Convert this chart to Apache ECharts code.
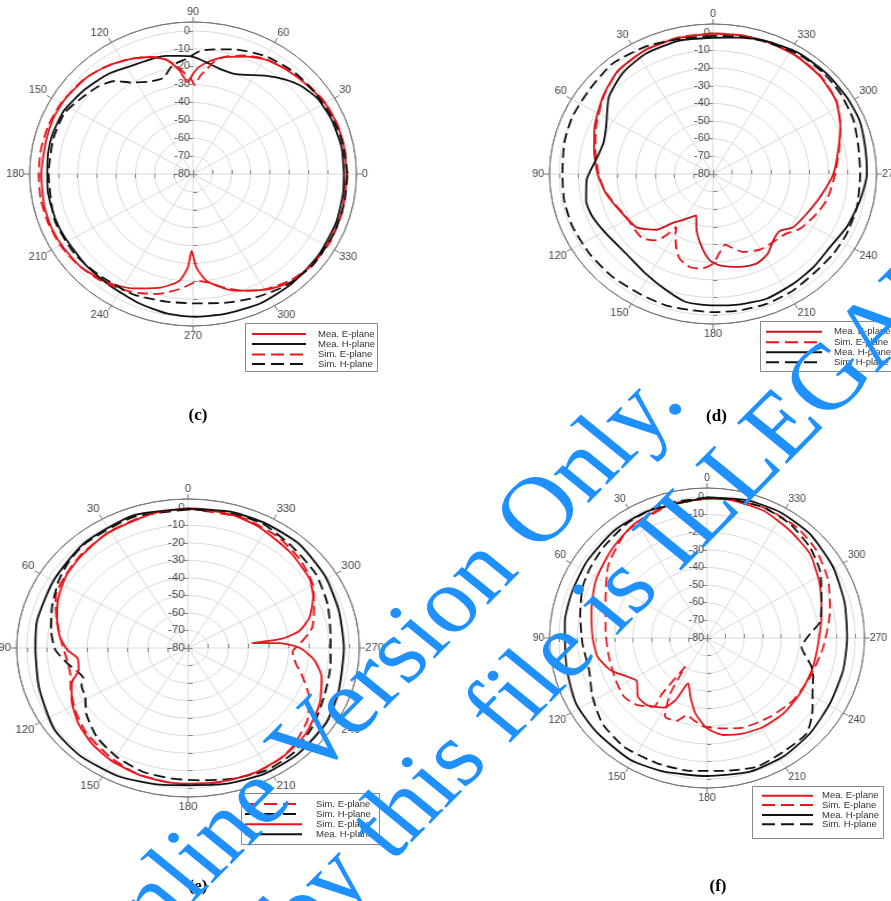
<!DOCTYPE html>
<html><head><meta charset="utf-8">
<script src="https://cdn.jsdelivr.net/npm/echarts@6/dist/echarts.min.js"></script>
<style>
html,body{margin:0;padding:0;width:891px;height:901px;overflow:hidden;background:#fff;}
.pc{position:absolute;width:400px;height:360px;}
#ov{position:absolute;left:0;top:0;width:891px;height:901px;z-index:10;}
</style></head><body>
<div id="pc" class="pc"></div>
<div id="pd" class="pc"></div>
<div id="pe" class="pc"></div>
<div id="pf" class="pc"></div>
<div id="ov"></div>
<script>
// ---- axis values ----
const dbTicks = [-80,-70,-60,-50,-40,-30,-20,-10,0];
const angleMin = 0, angleMax = 360, angleStep = 30;

// ---- data: [angle (deg), level (dB)] ----
// (c)
const cMeaE = [[0,-0.2],[10,0],[20,0],[30,-0.8],[40,-2.6],[50,-4.1],[59,-5.6],[67,-8.7],[75,-12.2],[81,-15.5],[87,-20],[90,-24],[93,-28.6],[97,-21.7],[102,-14.9],[108,-11.2],[116,-8.2],[126,-5],[136,-2.7],[148,-1.3],[157,-1],[166,-1.3],[180,-1.1],[193,-0.6],[202,-0.5],[211,-1],[222,-1.9],[234,-4.9],[244,-8.8],[255,-14.2],[263,-19.6],[267,-27.4],[269,-37],[272,-27.5],[277,-19.6],[288,-11.4],[301,-4.7],[311,-0.8],[322,0],[334,0.3],[346,0.3],[360,-0.2]];
const cMeaH = [[0,-1.5],[11,-1.3],[23,-1.8],[33,-2.7],[41,-5.2],[48,-8.8],[55,-13],[63,-17.8],[69,-20],[77,-19.5],[84,-17],[90,-14.5],[96,-13.6],[102,-12.5],[108,-12.1],[118,-11.5],[128,-8.8],[140,-6.5],[152,-4.1],[163,-3.6],[171,-3.7],[180,-4.2],[188,-3.8],[199,-4.1],[208,-4.5],[222,-4.5],[235,-4.1],[249,-2.4],[260,-0.8],[270,-0.2],[282,0],[296,0.4],[310,0],[325,-0.5],[340,-0.8],[352,-1.2],[360,-1.5]];
const cSimE = [[0,0],[10,0.2],[20,0],[30,-0.5],[40,-2],[50,-3.8],[60,-5.5],[68,-8.5],[76,-12.5],[80,-16],[83,-21],[86,-24.8],[89,-30.2],[91,-27],[94,-24],[98,-19],[103,-14],[110,-10.5],[118,-7.5],[128,-4.5],[138,-2.2],[150,-0.8],[160,0],[170,0.3],[180,0.3],[190,0.5],[200,0.2],[210,-0.3],[220,-1.5],[230,-3.2],[240,-5.5],[247,-7.7],[255,-10.6],[264,-15.4],[273,-20],[278,-18.5],[285,-14],[292,-9.5],[300,-5.5],[310,-2],[320,0],[332,0.8],[345,0.5],[360,0]];
const cSimH = [[0,0.4],[14,-0.4],[24,-1.1],[36,-2],[47,-2.4],[60,-4],[73,-7.1],[81,-9.4],[87,-11.2],[93,-15.4],[100,-18.3],[106,-24.1],[114,-23.5],[122,-19.7],[128,-14],[135,-10.6],[144,-8],[153,-5],[165,-4.7],[180,-4.9],[200,-3.5],[216,-3.9],[229,-5.3],[245,-5.8],[259,-7.3],[270,-7.7],[281,-6.4],[295,-3.7],[308,-1],[321,0.5],[336,0.5],[349,0.3],[360,0.4]];
// (d)
const dMeaE = [[0,-0.4],[13,-0.9],[26,-1.4],[40,-3.4],[52,-7.7],[66,-12.7],[78,-16.8],[90,-20],[101,-23.2],[113,-27.2],[127,-30],[137,-36.8],[143,-45.3],[147,-48.3],[159.5,-55],[165,-47],[172,-38.2],[178,-31.1],[184,-28.1],[195,-25.5],[204,-24.4],[212,-26.5],[220,-31.1],[227,-32.6],[234,-28.6],[245,-26.4],[257,-22.8],[270,-17.4],[282,-13.4],[292,-8.6],[303,-3.8],[315,-1.5],[327,-0.4],[338,0],[349,0],[360,-0.4]];
const dSimE = [[0,-0.2],[13,-0.6],[26,-1.3],[40,-3.5],[52,-8],[66,-13.5],[78,-17.5],[90,-20.5],[99,-22.8],[108,-26],[118,-28.7],[128,-28.5],[135,-28.3],[142,-32.2],[145,-37.6],[147.5,-44.4],[150,-41],[155,-34.5],[160,-29],[167,-25.9],[173.5,-26],[180,-29.2],[184,-34.8],[189,-39.5],[193,-37.2],[199.5,-33.1],[209.6,-30.7],[219,-30.4],[228.7,-29],[235.6,-25.2],[245,-22.4],[256,-19],[270,-16.5],[282,-13],[292,-8.5],[303,-3.5],[315,-1.2],[327,-0.2],[338,0],[349,0],[360,-0.2]];
const dMeaH = [[0,-2.8],[13,-2.4],[27,-3.4],[39,-5.9],[51,-10.4],[64,-18.2],[73,-20.4],[82.5,-18.6],[93,-14.2],[103,-12.3],[111,-12.8],[121,-14.9],[135,-16.1],[148,-13.6],[160,-9.7],[169,-6.1],[180,-5.5],[191,-4.8],[201.5,-4],[214,-5.1],[225,-5.8],[236,-6.4],[247,-4.2],[259,-2.1],[270,0],[281,0.6],[292,2],[302,2],[314,2],[327,1.8],[340,0.3],[350,-1.5],[360,-2.8]];
const dSimH = [[0,-1.7],[13,-1.5],[26,0.3],[40,1.5],[53,0.1],[66,0],[77,-0.7],[90,-1.7],[101,-1.2],[112,-1.1],[125,-1.5],[138,-1.7],[151,-2.1],[162,-1.6],[172,-2],[180,-1.7],[190,-1.4],[201,-1.3],[212,-1.9],[223,-3.1],[234,-2.8],[244,-2.7],[256,-2.9],[270,-3.5],[282,-2.8],[293,-0.8],[305,0.5],[315,1.1],[326,1.2],[340,-0.3],[350,-1],[360,-1.7]];
// (e)
const eSimE = [[0,-0.5],[15,-1.5],[30,-3],[45,-4.8],[56,-6.5],[66,-8.1],[76,-12.8],[88,-17.5],[97,-19.6],[104,-19.8],[112.5,-17.1],[122.5,-13.7],[134,-10],[148,-6.8],[160,-4],[172,-2.8],[180,-2.2],[192,-1.8],[205,-1.5],[215,-2],[222.5,-3.4],[235,-7.8],[245,-13.8],[254,-20.9],[260.6,-25.8],[267.5,-28.1],[273,-24],[278,-19.5],[281,-17.1],[289,-13.9],[300.7,-8.2],[312,-5],[325,-2.5],[340,-1],[360,-0.5]];
const eSimH = [[0,-1],[20,-0.5],[40,-1.5],[50,-3],[59,-5.2],[71,-8.6],[81.5,-11.3],[91,-14.2],[98,-19.3],[108.7,-25.3],[112,-23],[118.7,-21.9],[126.6,-17.1],[138.3,-12],[150.4,-8.5],[162.6,-5.9],[174.3,-5.1],[184.4,-4.3],[196.6,-2.2],[209,-0.2],[220.7,-0.5],[233.8,-3.6],[247.5,-7],[262.8,-8.7],[275,-9],[290,-6.4],[303.8,-3.8],[318,-2.5],[332.5,0],[346,-0.3],[360,-1]];
const eMeaE = [[0,-0.3],[10,-1],[17,-2.1],[32,-3.3],[46,-5.5],[56,-6.9],[66,-9.6],[75,-12.7],[84,-16],[91,-20],[96,-24.9],[103,-24.3],[109,-19],[117,-15.2],[128.5,-10.6],[139,-7.5],[150,-5.2],[162,-3.6],[172,-2.8],[180,-2.6],[191.5,-2],[204,-1.5],[217,-2.1],[230,-3.8],[244,-7.4],[256,-11.7],[264,-17.2],[270,-24.5],[273.5,-34.5],[275,-48],[276.5,-33],[280,-24],[286,-17.4],[295,-11.5],[303,-8],[317,-5.5],[333,-2.5],[344,-1],[356,-0.3],[360,-0.3]];
const eMeaH = [[0,-0.5],[20,0.4],[41,-1.1],[60,-3],[78,-3.5],[90,-4.3],[107,-2.7],[125,1],[139,1.5],[155,0.9],[170,-0.8],[180,-1.7],[194,-0.3],[208,1.2],[222,1.4],[238,0.8],[252,-1.4],[270,-2.7],[286,-2.2],[301,-0.6],[317,1],[331,0.8],[344,0.7],[360,-0.5]];
// (f)
const fMeaE = [[0,-1],[14.5,-1.6],[31,-4.3],[46,-8.2],[61.5,-11.7],[76,-15.7],[89.4,-18.2],[100,-19.9],[109.4,-24.9],[117,-31.7],[122.6,-34.9],[131.8,-30],[139.6,-30.1],[149.4,-34.2],[154.2,-40.9],[158.4,-52.3],[165,-45.5],[171.6,-36.8],[180,-28.8],[189.3,-24.3],[200,-22.5],[211,-21.2],[224,-20.6],[238,-20.8],[252,-20.6],[267,-19.9],[282.5,-16.7],[297,-11.8],[310.6,-6.8],[323.6,-4.5],[337,-1.7],[351,-0.8],[360,-1]];
const fSimE = [[0,-1],[15,-2],[30,-5],[37,-6],[52,-12.5],[67,-20.6],[85.5,-25.1],[101,-26],[116,-25.2],[126.6,-24.2],[135.3,-26.5],[143.6,-31.6],[142.5,-40],[144,-60],[148,-42],[153,-30],[161,-30.4],[166,-35],[171,-33],[178,-29.7],[190,-28],[201,-25.6],[217,-23.9],[233,-21.6],[248,-20.2],[265,-17.1],[283,-11.9],[296.5,-6.9],[310,-2.9],[322,-0.8],[337,0],[350,-0.5],[360,-1]];
const fMeaH = [[0,-0.3],[24,-1.3],[39.5,-1.2],[56,-2],[70,-2.6],[83,-2.7],[90,-3.3],[104,-2.2],[118,-0.1],[132,0],[149,0.5],[163,-0.8],[180,-1.8],[197,-0.8],[211.5,-1.2],[226,-2.5],[241,-4],[256,-4.3],[270,-4.4],[285,-3.1],[300.5,-1],[316.6,1],[331,1.5],[344.6,1],[360,-0.3]];
const fSimH = [[0,-0.5],[17,-0.6],[33,-2],[47,-4],[58,-5.5],[67,-7],[78.7,-10.2],[92.7,-12.7],[106,-13.8],[118.3,-9.8],[130.6,-5.6],[144,-3.8],[159.3,-4.1],[173.2,-4.2],[186.8,-4.2],[200.3,-2.3],[212.6,-3.5],[224.9,-3.8],[234.3,-9.9],[244,-16.6],[249,-18.6],[254.4,-21.7],[264.3,-28.7],[272.5,-24.3],[278.4,-18.4],[290.6,-14],[302,-8.1],[312.8,-4.3],[325.3,-1.4],[337.6,0],[351,-0.3],[360,-0.5]];

// ---- legend labels ----
const legC = ['Mea. E-plane','Mea. H-plane','Sim. E-plane','Sim. H-plane'];
const legD = ['Mea. E-plane','Sim. E-plane','Mea. H-plane','Sim. H-plane'];
const legE = ['Sim. E-plane','Sim. H-plane','Sim. E-plane','Mea. H-plane'];
const legF = ['Mea. E-plane','Sim. E-plane','Mea. H-plane','Sim. H-plane'];
const panelLabels = ['(c)','(d)','(e)','(f)'];
const watermark = ['Online Version Only.', 'Book made by this file is ILLEGAL.'];

// ---- styles ----
const FONT = '"Liberation Sans", Arial, sans-serif';
const RED = '#e8161b', DRED = '#c8141c', BLK = '#111111';
const DASH = [10,5];

const plots = [
  {id:'pc', cx:193.3, cy:174, k:1.075, r:152, start:0,
   series:[[cMeaE,RED,false],[cMeaH,BLK,false],[cSimE,RED,true],[cSimH,BLK,true]]},
  {id:'pd', cx:713.3, cy:174, k:1.09, r:150, start:90,
   series:[[dMeaE,DRED,false],[dSimE,RED,true],[dMeaH,BLK,false],[dSimH,BLK,true]]},
  {id:'pe', cx:188.3, cy:647.7, k:1.15, r:149, start:90,
   series:[[eSimE,RED,true],[eSimH,BLK,true],[eMeaE,RED,false],[eMeaH,BLK,false]]},
  {id:'pf', cx:706.7, cy:637.7, k:1.05, r:150, start:90,
   series:[[fMeaE,RED,false],[fSimE,RED,true],[fMeaH,BLK,false],[fSimH,BLK,true]]}
];

const ringColors = ['#dadada','#dadada','#dadada','#dadada','#dadada','#dadada','#dadada','#dadada','#dadada','#777777'];

plots.forEach(p => {
  const el = document.getElementById(p.id);
  el.style.left = (p.cx - 200) + 'px';
  el.style.top = (p.cy - 180) + 'px';
  el.style.transformOrigin = '200px 180px';
  el.style.transform = 'scaleX(' + p.k + ')';
  const polar = [{center:[200,180], radius:p.r}];
  const angleAxis = [{
    polarIndex:0, type:'value', min:angleMin, max:angleMax, interval:angleStep,
    startAngle:p.start, clockwise:false,
    axisLine:{show:true, lineStyle:{color:'#777', width:1}},
    axisTick:{show:true, length:5, lineStyle:{color:'#777'}},
    axisLabel:{margin:5, fontSize:10, color:'#444', fontFamily:FONT,
      formatter: v => (v === 360 ? '' : String(v))},
    splitLine:{show:true, lineStyle:{color:'#dadada', width:1}}
  }];
  const radiusAxis = [{
    polarIndex:0, type:'value', min:-80, max:5, interval:10,
    axisLine:{show:false}, axisTick:{show:false}, axisLabel:{show:false},
    splitLine:{show:true, lineStyle:{color:ringColors, width:1}}
  }];
  [0,90,180,270].forEach((a,i) => {
    polar.push({center:[200,180], radius:p.r});
    angleAxis.push({polarIndex:i+1, type:'value', min:0, max:360, startAngle:a, show:false});
    radiusAxis.push({
      polarIndex:i+1, type:'value', min:-80, max:5, interval:10,
      axisLine:{show:false},
      axisTick:{show:true, length:4, customValues:dbTicks, lineStyle:{color:'#888'}},
      axisLabel:{show:a===90, customValues:dbTicks, fontSize:10, color:'#444', margin:3, fontFamily:FONT},
      splitLine:{show:false}
    });
  });
  const series = p.series.map(s => ({
    type:'line', coordinateSystem:'polar', polarIndex:0,
    data: s[0].map(d => [d[1], d[0]]),
    showSymbol:false, symbol:'none', smooth:0.2,
    lineStyle:{color:s[1], width:1.8, type: s[2] ? DASH : 'solid'}
  }));
  const ch = echarts.init(el, null, {renderer:'canvas'});
  ch.setOption({animation:false, polar, angleAxis, radiusAxis, series});
});

// ---- overlay: legends, panel labels, watermark ----
function legendEls(box, names, styles, lx1, lx2, tx, rows) {
  const out = [{type:'rect', shape:{x:box[0], y:box[1], width:box[2], height:box[3]},
    style:{fill:'#fff', stroke:'#888', lineWidth:1}, z:5}];
  names.forEach((n,i) => {
    const st = styles[i];
    out.push({type:'line', shape:{x1:lx1, y1:rows[i], x2:lx2, y2:rows[i]},
      style:{stroke:st[0], lineWidth:2, lineDash: st[1] ? [13,6] : null}, z:6});
    out.push({type:'text', x:tx, y:rows[i], style:{text:n, font:'9.5px ' + FONT, fill:'#333', align:'left', verticalAlign:'middle'}, z:6});
  });
  return out;
}
let els = [];
els = els.concat(legendEls([245.5,323.5,132,48], legC, [[RED,false],[BLK,false],[RED,true],[BLK,true]], 252, 306, 318, [334,344,354.5,364]));
els = els.concat(legendEls([760.5,321.5,140,50], legD, [[DRED,false],[RED,true],[BLK,false],[BLK,true]], 766, 822, 834, [331.7,342.3,352.3,362.3]));
els = els.concat(legendEls([241.5,793.5,138,51], legE, [[RED,true],[BLK,true],[RED,false],[BLK,false]], 245, 302, 316, [804,814,824.3,834.3]));
els = els.concat(legendEls([752.5,786.5,131,52], legF, [[RED,false],[RED,true],[BLK,false],[BLK,true]], 762, 813, 822, [795.7,805,815,824.3]));
const labelPos = [[198,416],[716.5,416.5],[198,887],[718,887]];
panelLabels.forEach((t,i) => els.push({type:'text', x:labelPos[i][0], y:labelPos[i][1],
  style:{text:t, font:'bold 17px "Liberation Serif", "Times New Roman", serif', fill:'#000', align:'center', verticalAlign:'middle'}, z:6}));
const WM = '#1e90ff';
function wmLine(txt, x, y, deg) {
  return {type:'group', x:x, y:y, scaleX:1.1, z:50, children:[
    {type:'text', x:0, y:0, rotation:deg * Math.PI / 180, z:50,
     style:{text:txt, font:'93px "Liberation Serif", serif', fill:WM, align:'left', verticalAlign:'middle'}}]};
}
els.push(wmLine(watermark[0], 88, 972, 48));
els.push(wmLine(watermark[1], -45, 1267, 48));
const ov = echarts.init(document.getElementById('ov'));
ov.setOption({animation:false, graphic:{elements:els}});
</script>
</body></html>
